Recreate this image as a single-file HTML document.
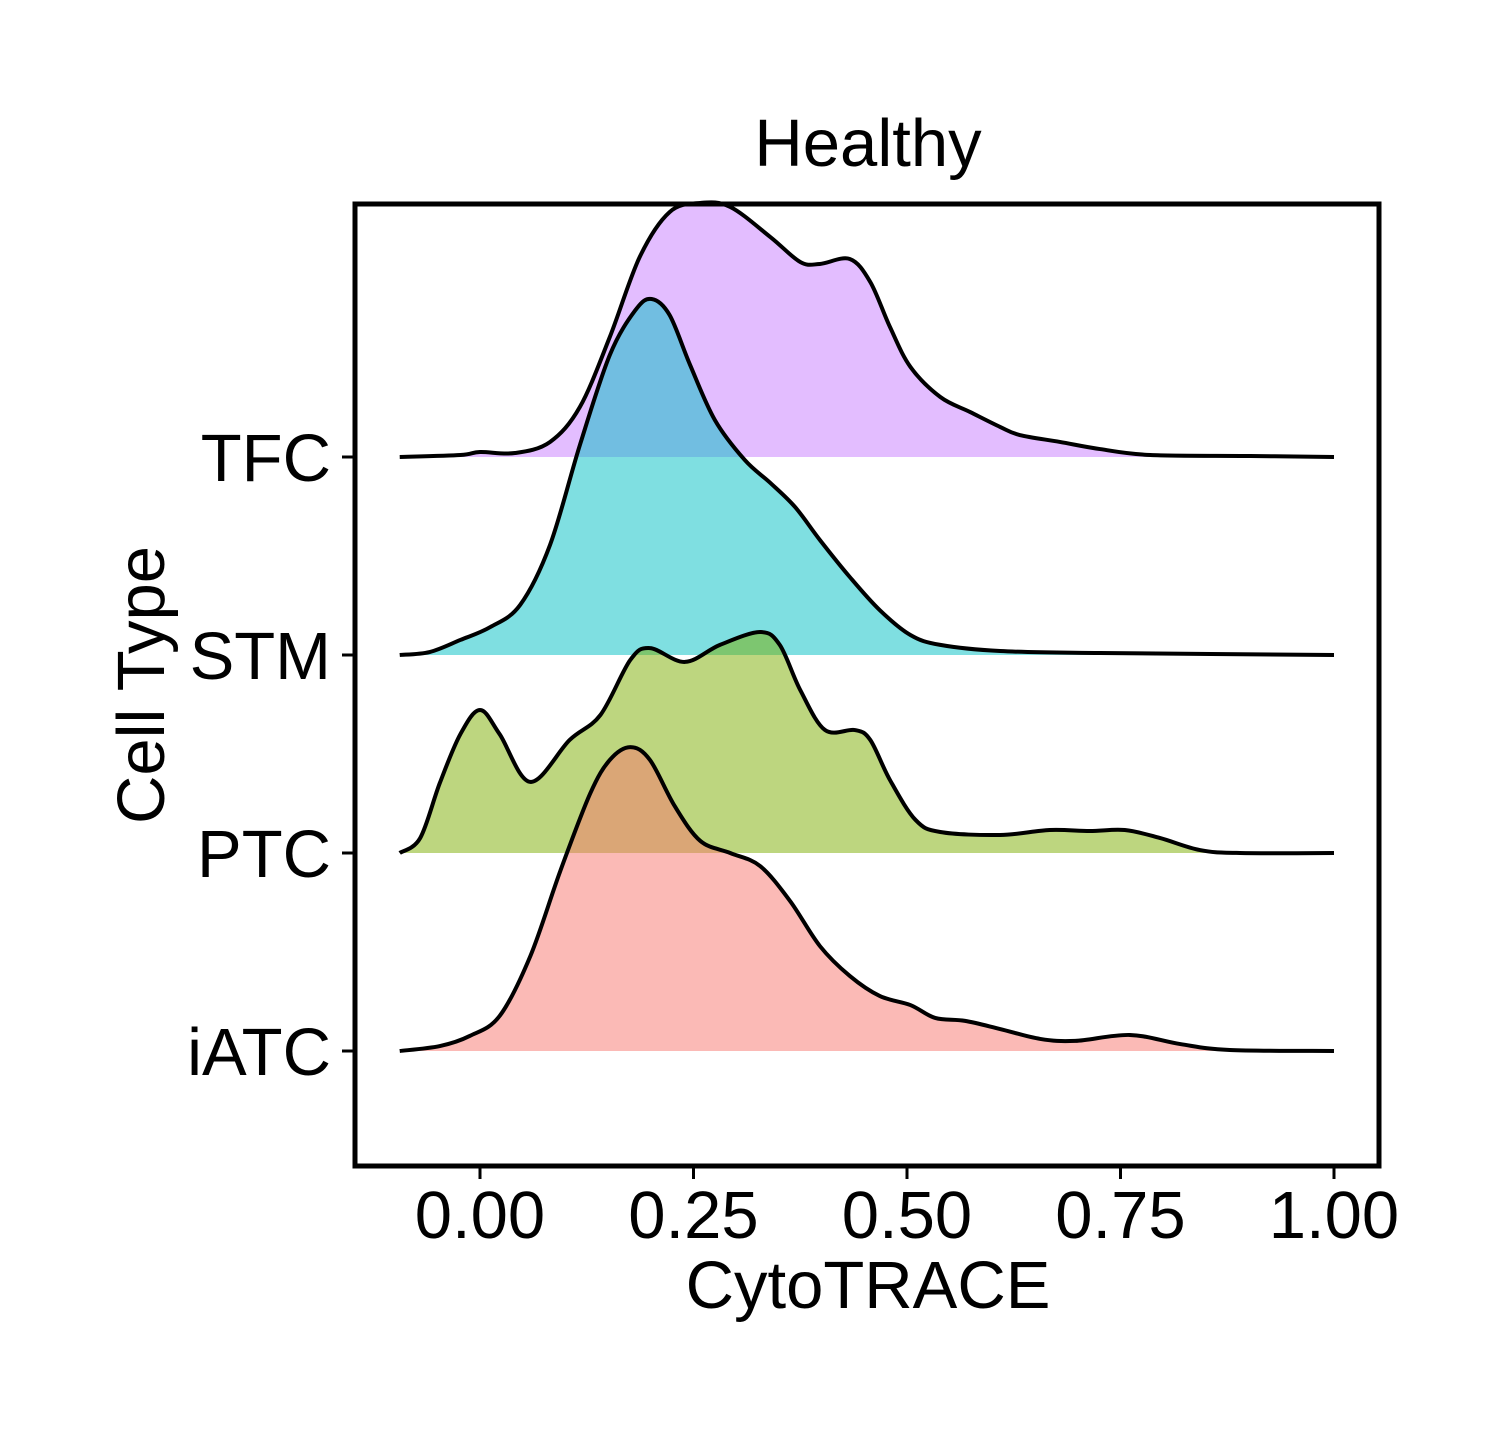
<!DOCTYPE html>
<html><head><meta charset="utf-8"><style>
body{margin:0;background:#fff}
svg text{font-family:"Liberation Sans",sans-serif;fill:#000}
</style></head><body>
<svg id="chart" width="1500" height="1440" viewBox="0 0 1500 1440" xmlns="http://www.w3.org/2000/svg">
<text x="868" y="166" font-size="67" text-anchor="middle">Healthy</text>
<g id="ridges"></g>
<rect x="355" y="204" width="1024" height="962" fill="none" stroke="#000" stroke-width="5"/>
<g id="axes"></g>
<text x="868" y="1308" font-size="67" text-anchor="middle">CytoTRACE</text>
<text x="0" y="0" font-size="67" text-anchor="middle" transform="translate(164,685) rotate(-90)">Cell Type</text>
</svg>
<script>
const categories=["iATC","PTC","STM","TFC"];
const colors=["#F8766D","#7CAE00","#00BFC4","#C77CFF"];
const xTicks=[0,0.25,0.5,0.75,1];
const xTickLabels=["0.00","0.25","0.50","0.75","1.00"];
// densities: [CytoTRACE value, height in row units]
const iatcX=[-0.094,-0.047,-0.012,0.023,0.059,0.094,0.129,0.152,0.176,0.199,0.228,0.258,0.293,0.328,0.363,0.398,0.433,0.468,0.504,0.533,0.568,0.609,0.656,0.697,0.761,0.820,0.878,1.0];
const iatcY=[0,0.025,0.076,0.177,0.48,0.909,1.30,1.47,1.535,1.47,1.237,1.061,1.0,0.934,0.758,0.53,0.379,0.278,0.232,0.167,0.152,0.111,0.061,0.051,0.081,0.035,0.005,0];
const ptcX=[-0.094,-0.07,-0.047,-0.023,0,0.023,0.059,0.105,0.141,0.176,0.199,0.240,0.281,0.328,0.351,0.375,0.404,0.439,0.457,0.480,0.510,0.539,0.609,0.667,0.714,0.755,0.796,0.843,0.890,1.0];
const ptcY=[0,0.076,0.354,0.6,0.722,0.6,0.359,0.571,0.697,0.975,1.035,0.965,1.051,1.116,1.051,0.823,0.621,0.621,0.571,0.369,0.167,0.106,0.091,0.116,0.111,0.116,0.076,0.015,0,0];
const stmX=[-0.094,-0.059,-0.023,0.012,0.047,0.082,0.117,0.152,0.182,0.201,0.222,0.246,0.275,0.310,0.340,0.369,0.398,0.433,0.468,0.504,0.539,0.609,0.726,1.0];
const stmY=[0,0.015,0.076,0.141,0.253,0.556,1.061,1.515,1.742,1.798,1.717,1.465,1.187,0.985,0.869,0.747,0.581,0.394,0.227,0.101,0.051,0.02,0.01,0];
const tfcX=[-0.094,-0.023,0,0.041,0.082,0.117,0.152,0.187,0.222,0.258,0.293,0.340,0.375,0.398,0.433,0.457,0.480,0.504,0.539,0.574,0.609,0.632,0.679,0.726,0.785,0.902,1.0];
const tfcY=[0,0.01,0.025,0.02,0.076,0.253,0.606,1.01,1.237,1.283,1.263,1.111,0.985,0.975,1.0,0.884,0.657,0.455,0.303,0.227,0.152,0.111,0.076,0.04,0.01,0.005,0];
const seriesX=[iatcX,ptcX,stmX,tfcX];
const seriesY=[iatcY,ptcY,stmY,tfcY];
const NS="http://www.w3.org/2000/svg";
const xs=v=>480+v*854;
const base=i=>1051-i*198;
const ys=(i,h)=>base(i)-h*198;
function smooth(p){let d="M"+p[0][0]+","+p[0][1];for(let i=0;i<p.length-1;i++){const p0=p[i-1]||p[i],p1=p[i],p2=p[i+1],p3=p[i+2]||p2;
d+=" C"+(p1[0]+(p2[0]-p0[0])/6)+","+(p1[1]+(p2[1]-p0[1])/6)+" "+(p2[0]-(p3[0]-p1[0])/6)+","+(p2[1]-(p3[1]-p1[1])/6)+" "+p2[0]+","+p2[1];}return d;}
const rg=document.getElementById("ridges");
for(let i=3;i>=0;i--){
 const pts=seriesX[i].map((x,k)=>[xs(x),ys(i,seriesY[i][k])]);
 const d=smooth(pts);
 const f=document.createElementNS(NS,"path");
 
 
 f.setAttribute("d",d+" L"+pts[pts.length-1][0]+","+base(i)+" L"+pts[0][0]+","+base(i)+"Z");
 f.setAttribute("fill",colors[i]);f.setAttribute("fill-opacity","0.5");
 rg.appendChild(f);
 const l=document.createElementNS(NS,"path");
 
 
 l.setAttribute("d",d);l.setAttribute("fill","none");l.setAttribute("stroke","#000");l.setAttribute("stroke-width","4");l.setAttribute("stroke-linejoin","round");
 rg.appendChild(l);
}
const ax=document.getElementById("axes");
categories.forEach((c,i)=>{
 const t=document.createElementNS(NS,"line");
 
 
 t.setAttribute("x1",342);t.setAttribute("x2",355);t.setAttribute("y1",base(i));t.setAttribute("y2",base(i));t.setAttribute("stroke","#000");t.setAttribute("stroke-width","3");ax.appendChild(t);
 const tx=document.createElementNS(NS,"text");
 
 
 tx.setAttribute("x",331);tx.setAttribute("y",base(i)+24);tx.setAttribute("font-size","67");tx.setAttribute("text-anchor","end");tx.textContent=c;ax.appendChild(tx);
});
xTicks.forEach((v,i)=>{
 const t=document.createElementNS(NS,"line");
 
 
 t.setAttribute("x1",xs(v));t.setAttribute("x2",xs(v));t.setAttribute("y1",1166);t.setAttribute("y2",1179);t.setAttribute("stroke","#000");t.setAttribute("stroke-width","3");ax.appendChild(t);
 const tx=document.createElementNS(NS,"text");
 
 
 tx.setAttribute("x",xs(v));tx.setAttribute("y",1238);tx.setAttribute("font-size","67");tx.setAttribute("text-anchor","middle");tx.textContent=xTickLabels[i];ax.appendChild(tx);
});
</script>
</body></html>
